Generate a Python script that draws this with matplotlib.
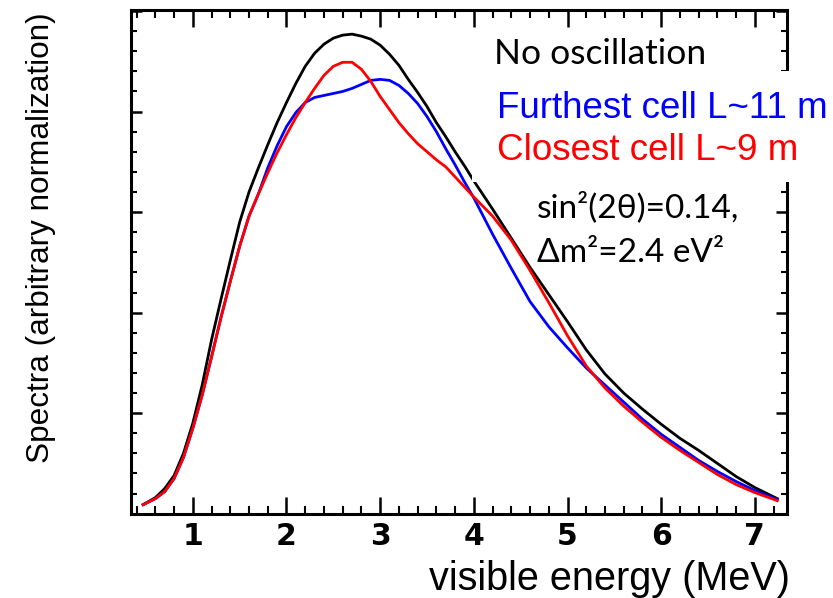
import matplotlib
matplotlib.use('Agg')
import matplotlib.pyplot as plt
from matplotlib.patches import Rectangle
from matplotlib.ticker import MultipleLocator, NullFormatter

# visible energy grid (MeV) and spectra
energy = [0.47, 0.6, 0.7, 0.8, 0.9, 1.0, 1.1, 1.2, 1.3, 1.4, 1.5, 1.6, 1.7, 1.8, 1.9,
          2.0, 2.1, 2.2, 2.3, 2.4, 2.5, 2.6, 2.7, 2.8, 2.9, 3.0, 3.1, 3.2, 3.3, 3.4,
          3.5, 3.6, 3.7, 3.8, 3.9, 4.0, 4.2, 4.4, 4.6, 4.8, 5.0, 5.2, 5.4, 5.6, 5.8,
          6.0, 6.2, 6.4, 6.6, 6.8, 7.0, 7.24]
no_osc = [0.09, 0.16, 0.25, 0.38, 0.60, 0.90, 1.28, 1.73, 2.13, 2.52, 2.90, 3.20, 3.44, 3.67, 3.89,
          4.09, 4.28, 4.45, 4.58, 4.67, 4.73, 4.76, 4.77, 4.75, 4.72, 4.66, 4.57, 4.46, 4.32, 4.19,
          4.05, 3.89, 3.75, 3.60, 3.46, 3.31, 3.03, 2.74, 2.45, 2.18, 1.91, 1.63, 1.39, 1.20, 1.04,
          0.89, 0.75, 0.63, 0.50, 0.37, 0.26, 0.15]
furthest = [0.09, 0.15, 0.22, 0.35, 0.56, 0.85, 1.18, 1.56, 1.95, 2.31, 2.66, 2.96, 3.18, 3.44, 3.66,
            3.85, 3.99, 4.09, 4.14, 4.16, 4.18, 4.20, 4.23, 4.27, 4.31, 4.32, 4.31, 4.26, 4.18, 4.08,
            3.95, 3.80, 3.63, 3.47, 3.30, 3.14, 2.78, 2.44, 2.11, 1.86, 1.65, 1.45, 1.28, 1.11, 0.94,
            0.79, 0.66, 0.53, 0.42, 0.32, 0.23, 0.14]
closest = [0.09, 0.15, 0.22, 0.35, 0.56, 0.85, 1.18, 1.56, 1.95, 2.31, 2.66, 2.96, 3.18, 3.39, 3.59,
           3.77, 3.94, 4.09, 4.23, 4.36, 4.45, 4.49, 4.49, 4.42, 4.30, 4.15, 4.02, 3.89, 3.78, 3.68,
           3.60, 3.52, 3.45, 3.35, 3.25, 3.15, 2.96, 2.72, 2.42, 2.10, 1.77, 1.47, 1.25, 1.07, 0.91,
           0.76, 0.63, 0.51, 0.39, 0.29, 0.21, 0.13]

xticks = [1, 2, 3, 4, 5, 6, 7]

fig = plt.figure(figsize=(8.33, 5.98), dpi=100)
ax = fig.add_axes([131 / 833, 1 - 513.7 / 598, (786.7 - 131) / 833, (513.7 - 10) / 598])

ax.plot(energy, no_osc, color='black', lw=2.0)
ax.plot(energy, furthest, color='#0000ff', lw=2.0)
ax.plot(energy, closest, color='#ff0000', lw=2.0)

ax.set_xlim(0.34, 7.34)
ax.set_ylim(0, 5.01)

ax.set_xticks(xticks)
ax.set_xticklabels([str(t) for t in xticks])
ax.xaxis.set_minor_locator(MultipleLocator(0.2))
ax.yaxis.set_major_locator(MultipleLocator(1))
ax.yaxis.set_minor_locator(MultipleLocator(0.2))
ax.yaxis.set_major_formatter(NullFormatter())

# ticks inside on all four sides
ax.tick_params(axis='both', which='both', direction='in', top=True, bottom=True,
               left=True, right=True, colors='black')
ax.tick_params(axis='x', which='major', length=12, width=1.8, pad=6)
ax.tick_params(axis='x', which='minor', length=6, width=1.5)
ax.tick_params(axis='y', which='major', length=8, width=1.8)
ax.tick_params(axis='y', which='minor', length=4.5, width=1.5)
for lab in ax.get_xticklabels():
    lab.set_fontfamily('DejaVu Sans')
    lab.set_fontweight('bold')
    lab.set_fontsize(21.5)
for s in ax.spines.values():
    s.set_linewidth(2.2)

# axis titles
fig.text(790 / 833, 1 - 590 / 598, 'visible energy (MeV)', ha='right', va='baseline',
         fontfamily='Liberation Sans', fontsize=28.5)
fig.text(41 / 833, 1 - 12 / 598, 'Spectra (arbitrary normalization)', rotation=90,
         ha='center', va='top', fontfamily='Liberation Sans', fontsize=22.7)

# white patch behind the legend text (covers the right spine there)
fig.add_artist(Rectangle((472 / 833, 1 - 182 / 598), 1 - 472 / 833, 111 / 598,
                         transform=fig.transFigure, facecolor='white', edgecolor='none',
                         zorder=5))

fig.text(494 / 833, 1 - 64 / 598, 'No oscillation', ha='left', va='baseline',
         fontfamily=['Lato', 'DejaVu Sans'], fontsize=25.5, color='black', zorder=6)
fig.text(497 / 833, 1 - 118 / 598, 'Furthest cell L~11 m', ha='left', va='baseline',
         fontfamily='Liberation Sans', fontsize=26.5, color='#0000ff', zorder=6)
fig.text(497 / 833, 1 - 160 / 598, 'Closest cell L~9 m', ha='left', va='baseline',
         fontfamily='Liberation Sans', fontsize=26.5, color='#ff0000', zorder=6)
fig.text(537 / 833, 1 - 217 / 598, 'sin\u00b2(2\u03b8)=0.14,', ha='left', va='baseline',
         fontfamily=['Lato', 'DejaVu Sans'], fontsize=24, color='black', zorder=6)
fig.text(537 / 833, 1 - 262 / 598, '\u0394m\u00b2=2.4 eV\u00b2', ha='left', va='baseline',
         fontfamily=['Lato', 'DejaVu Sans'], fontsize=24, color='black', zorder=6)

fig.savefig('out.png', dpi=100)
